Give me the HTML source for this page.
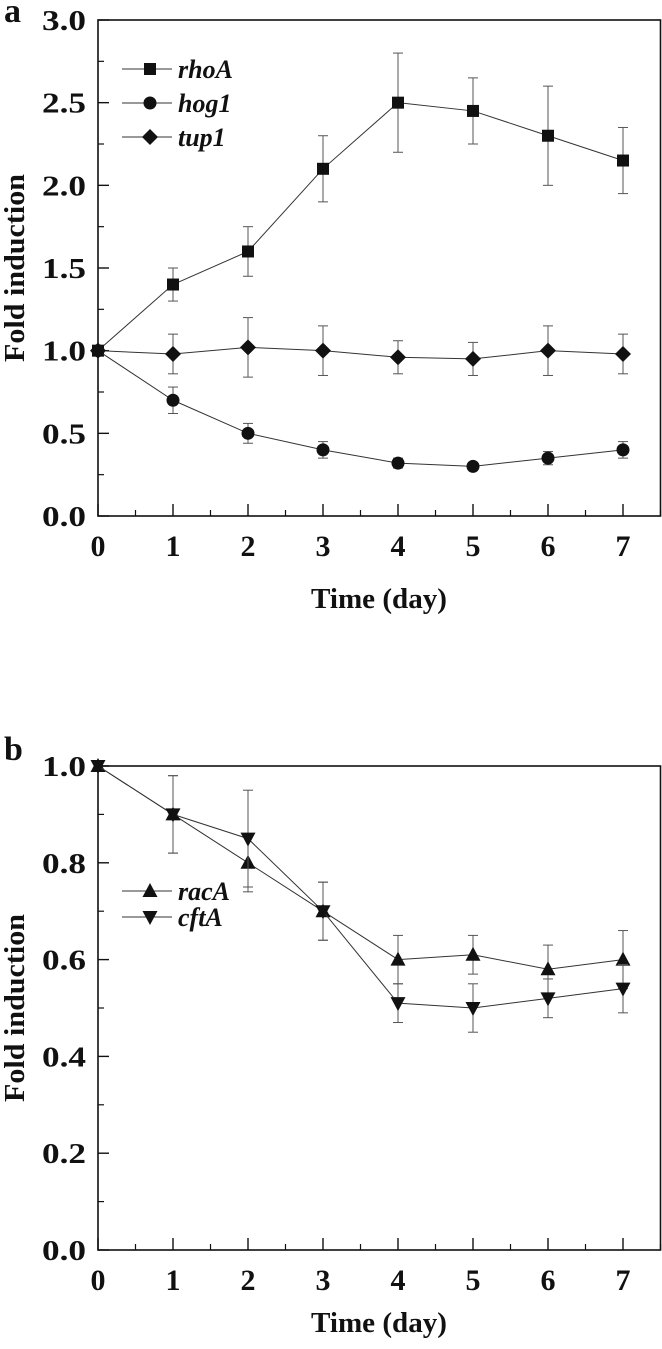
<!DOCTYPE html>
<html><head><meta charset="utf-8"><style>
body{margin:0;background:#fff}
svg text{font-family:"Liberation Serif",serif;font-weight:bold;fill:#111}
</style></head><body>
<svg id="s" width="662" height="1344" viewBox="0 0 662 1344" xmlns="http://www.w3.org/2000/svg"></svg>
<script>
const days=[0,1,2,3,4,5,6,7];
const rhoA=[1,1.4,1.6,2.1,2.5,2.45,2.3,2.15];
const rhoAErr=[0,0.1,0.15,0.2,0.3,0.2,0.3,0.2];
const hog1=[1,0.7,0.5,0.4,0.32,0.3,0.35,0.4];
const hog1Err=[0,0.08,0.06,0.05,0.03,0.02,0.04,0.05];
const tup1=[1,0.98,1.02,1.0,0.96,0.95,1.0,0.98];
const tup1Err=[0,0.12,0.18,0.15,0.1,0.1,0.15,0.12];
const racA=[1,0.9,0.8,0.7,0.6,0.61,0.58,0.6];
const racAErr=[0,0.08,0.06,0.06,0.05,0.04,0.05,0.06];
const cftA=[1,0.9,0.85,0.7,0.51,0.5,0.52,0.54];
const cftAErr=[0,0.08,0.1,0.06,0.04,0.05,0.04,0.05];
const yTicksA=["0.0","0.5","1.0","1.5","2.0","2.5","3.0"];
const yTicksB=["0.0","0.2","0.4","0.6","0.8","1.0"];
const xTicks=["0","1","2","3","4","5","6","7"];

const S=document.getElementById('s');
const NS='http://www.w3.org/2000/svg';
function mk(t,a,p){const e=document.createElementNS(NS,t);for(const k in a)e.setAttribute(k,a[k]);(p||S).appendChild(e);return e;}
const X0=98,X1=660.5;
const xs=v=>X0+v*75;

function panel(name,top,bot,ymax,yTicks,minorStep,series,legend,letter,letterY,titleOff){
  const g=mk('g',{});
  
  
  const ys=v=>bot-(v/ymax)*(bot-top);
  const f=mk('rect',{x:X0,y:top,width:X1-X0,height:bot-top,fill:'none',stroke:'#111','stroke-width':1.6},g);
  
  yTicks.forEach(t=>{const v=parseFloat(t),y=ys(v);
    mk('line',{x1:X0,x2:X0+11,y1:y,y2:y,stroke:'#111','stroke-width':1.4},g);
    const tx=mk('text',{x:X0-12,y:y+10,'text-anchor':'end','font-size':29,textLength:44,lengthAdjust:'spacingAndGlyphs'},g);tx.textContent=t;
    });
  for(let v=minorStep;v<ymax;v+=minorStep*2){const y=ys(v);mk('line',{x1:X0,x2:X0+6,y1:y,y2:y,stroke:'#111','stroke-width':1.2},g);}
  xTicks.forEach(t=>{const v=parseFloat(t),x=xs(v);
    mk('line',{x1:x,x2:x,y1:bot,y2:bot-12,stroke:'#111','stroke-width':1.4},g);
    mk('line',{x1:x+37.5,x2:x+37.5,y1:bot,y2:bot-6,stroke:'#111','stroke-width':1.2},g);
    const tx=mk('text',{x:x,y:bot+40,'text-anchor':'middle','font-size':30},g);tx.textContent=t;
    });
  const xt=mk('text',{x:379,y:bot+titleOff,'text-anchor':'middle','font-size':29,textLength:136,lengthAdjust:'spacingAndGlyphs'},g);xt.textContent='Time (day)';
  
  const cy=(top+bot)/2;
  const yt=mk('text',{x:24,y:cy,'text-anchor':'middle','font-size':29,transform:`rotate(-90 24 ${cy})`,textLength:188,lengthAdjust:'spacingAndGlyphs'},g);yt.textContent='Fold induction';
  
  const lt=mk('text',{x:4,y:letterY,'font-size':34},g);lt.textContent=letter;
  
  series.forEach(s=>{
    const sg=mk('g',{},g);
    
    
    mk('polyline',{points:days.map((d,i)=>xs(d)+','+ys(s.v[i])).join(' '),fill:'none',stroke:'#333','stroke-width':1},sg);
    days.forEach((d,i)=>{const e=s.e[i];if(!e)return;const x=xs(d),y1=ys(s.v[i]+e),y2=ys(s.v[i]-e);
      mk('line',{x1:x,x2:x,y1:y1,y2:y2,stroke:'#555','stroke-width':1},sg);
      mk('line',{x1:x-5,x2:x+5,y1:y1,y2:y1,stroke:'#555','stroke-width':1},sg);
      mk('line',{x1:x-5,x2:x+5,y1:y2,y2:y2,stroke:'#555','stroke-width':1},sg);});
    days.forEach((d,i)=>{const m=marker(s.m,xs(d),ys(s.v[i]),sg);
      });
  });
  legend.forEach((l,i)=>{const y=l.y;
    const lg=mk('g',{},g);
    
    mk('line',{x1:122,x2:172,y1:y,y2:y,stroke:'#333','stroke-width':1},lg);
    marker(l.m,150,y,lg);
    const t=mk('text',{x:178,y:y+9,'font-size':26,'font-style':'italic'},lg);t.textContent=l.name;});
}
function marker(m,x,y,p){
  if(m==='sq')return mk('rect',{x:x-6,y:y-6,width:12,height:12,fill:'#111'},p);
  if(m==='ci')return mk('circle',{cx:x,cy:y,r:6.5,fill:'#111'},p);
  if(m==='di')return mk('polygon',{points:`${x},${y-8} ${x+8},${y} ${x},${y+8} ${x-8},${y}`,fill:'#111'},p);
  if(m==='up')return mk('polygon',{points:`${x},${y-8} ${x+7.5},${y+6} ${x-7.5},${y+6}`,fill:'#111'},p);
  return mk('polygon',{points:`${x},${y+8} ${x+7.5},${y-6} ${x-7.5},${y-6}`,fill:'#111'},p);
}
panel('a',20,516,3,yTicksA,0.25,
 [{name:'rhoA',v:rhoA,e:rhoAErr,m:'sq'},{name:'hog1',v:hog1,e:hog1Err,m:'ci'},{name:'tup1',v:tup1,e:tup1Err,m:'di'}],
 [{name:'rhoA',m:'sq',y:69},{name:'hog1',m:'ci',y:103},{name:'tup1',m:'di',y:137}],'a',22,92);
panel('b',766,1250,1,yTicksB,0.1,
 [{name:'racA',v:racA,e:racAErr,m:'up'},{name:'cftA',v:cftA,e:cftAErr,m:'dn'}],
 [{name:'racA',m:'up',y:891},{name:'cftA',m:'dn',y:917}],'b',760,82);
</script>
</body></html>
